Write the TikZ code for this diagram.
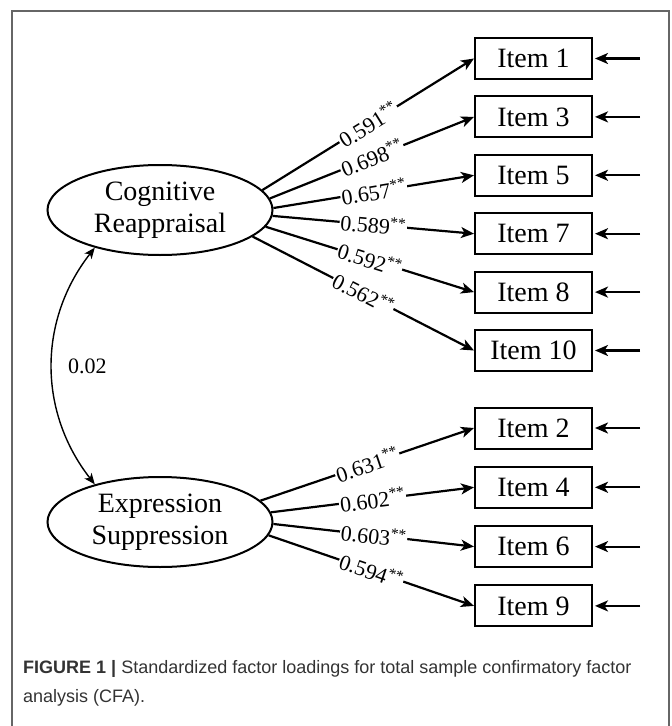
\documentclass[tikz,border=0pt]{standalone}
\usepackage{fontspec}
\setmainfont{Liberation Serif}
\newfontfamily\capfont{Liberation Sans}
\usetikzlibrary{arrows.meta,positioning,shapes.geometric}
\newcommand{\sig}{\textsuperscript{**}}

\begin{document}
\begin{tikzpicture}[x=1pt,y=1pt,>={Stealth[length=13pt,width=11pt,inset=3.5pt]}]
        \tikzset{latent/.style={draw, ellipse, line width=2pt, minimum width=225pt, minimum height=90pt, inner sep=0pt, align=center, font=\fontsize{28}{32}\selectfont},
        item/.style={draw, rectangle, line width=2pt, minimum width=117pt, minimum height=41pt, inner sep=0pt, font=\fontsize{28}{30}\selectfont},
        load/.style={sloped, fill=white, inner sep=1pt, font=\fontsize{22}{22}\selectfont},
        arc/.style={draw, ->, line width=2.2pt},
        corr/.style={line width=1.4pt, >={Stealth[length=11pt,width=9pt,inset=3pt]}},
        frame/.style={draw=black!60, line width=1.3pt},
        caption/.style={anchor=north west, align=left, inner sep=0pt, text=black!80, font=\capfont\fontsize{18}{29}\selectfont}
        }
        \useasboundingbox (0,0) rectangle (672,-726);
        \draw[frame] (12,-726) -- (12,-11) -- (669,-11) -- (669,-726);

        \node [latent] at (160,-210) (cr) {Cognitive\\Reappraisal};
        \node [latent] at (160,-522) (es) {Expression\\Suppression};

        \node [item] at (533.5,-58.5) (i1) {Item 1};
        \node [item, below=15.4pt of i1] (i3) {Item 3};
        \node [item, below=15.4pt of i3] (i5) {Item 5};
        \node [item, below=15.4pt of i5] (i7) {Item 7};
        \node [item, below=15.4pt of i7] (i8) {Item 8};
        \node [item, below=15.4pt of i8] (i10) {Item 10};
        \node [item, below=34.5pt of i10] (i2) {Item 2};
        \node [item, below=16.3pt of i2] (i4) {Item 4};
        \node [item, below=16.3pt of i4] (i6) {Item 6};
        \node [item, below=16.3pt of i6] (i9) {Item 9};

        \coordinate [right=47pt of i1.east] (e1);
        \coordinate [right=47pt of i3.east] (e3);
        \coordinate [right=47pt of i5.east] (e5);
        \coordinate [right=47pt of i7.east] (e7);
        \coordinate [right=47pt of i8.east] (e8);
        \coordinate [right=47pt of i10.east] (e10);
        \coordinate [right=47pt of i2.east] (e2);
        \coordinate [right=47pt of i4.east] (e4);
        \coordinate [right=47pt of i6.east] (e6);
        \coordinate [right=47pt of i9.east] (e9);

        \node [caption] at (23,-660) (cap) {\textbf{FIGURE 1 |} Standardized factor loadings for total sample confirmatory factor\\analysis (CFA).};

%%% paths
        \path[every edge/.style={arc}] (cr.11) edge node[load] {0.591\sig} (i1.west)
                    (cr.6.5) edge node[load] {0.698\sig} (i3.west)
                    (cr.1.5) edge node[load] {0.657\sig} (i5.west)
                    (cr.-3.5) edge node[load] {0.589\sig} (i7.west)
                    (cr.-9.5) edge node[load] {0.592\sig} (i8.west)
                    (cr.-16) edge node[load] {0.562\sig} (i10.west)
                    (es.12) edge node[load] {0.631\sig} (i2.west)
                    (es.5.6) edge node[load] {0.602\sig} (i4.west)
                    (es.-1) edge node[load] {0.603\sig} (i6.west)
                    (es.-7) edge node[load] {0.594\sig} (i9.west)
                    ;
        \path[every edge/.style={arc, shorten >=2pt}] (e1) edge (i1.east)
                    (e3) edge (i3.east)
                    (e5) edge (i5.east)
                    (e7) edge (i7.east)
                    (e8) edge (i8.east)
                    (e10) edge (i10.east)
                    (e2) edge (i2.east)
                    (e4) edge (i4.east)
                    (e6) edge (i6.east)
                    (e9) edge (i9.east)
                    ;
        \draw[<->,corr] (cr.210) to[out=232,in=128] node[right=12pt, font=\fontsize{22}{22}\selectfont] (r) {0.02} (es.150);
    \end{tikzpicture}
\end{document}
